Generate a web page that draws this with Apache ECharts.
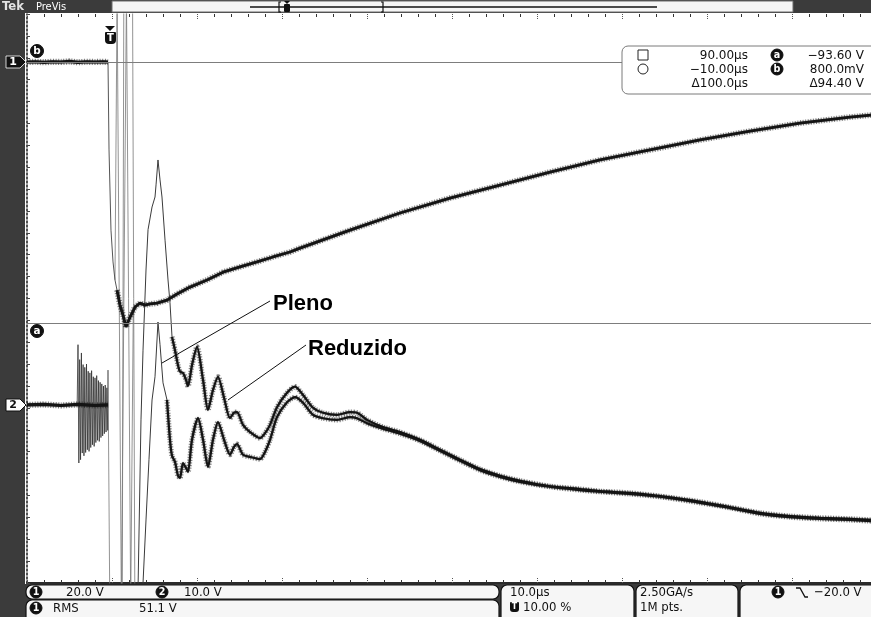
<!DOCTYPE html>
<html>
<head>
<meta charset="utf-8">
<script src="https://cdn.jsdelivr.net/npm/echarts@6/dist/echarts.min.js"></script>
<style>
  html, body { margin: 0; padding: 0; background: #ffffff; }
  #scope { width: 871px; height: 617px; }
</style>
</head>
<body>
<div id="scope"></div>
<script>
// Time in microseconds (trigger at 0), amplitudes in volts.
// Channel 1: 20 V/div, channel 2: 10 V/div.

const ch1Pre = [[-10, 0.8], [-9, 0.9], [-8, 0.7], [-7, 0.9], [-6, 0.8], [-5, 1.0], [-4, 0.7],
  [-3, 0.9], [-2, 0.8], [-1, 0.9], [-0.47, 0.8]];
const ch1Drop = [[-0.47, 0.8], [-0.35, -31.0], [-0.12, -60.0], [0.12, -71.5], [0.35, -78.0], [0.59, -81.7]];
const ch1Ring = [[0.35, -78.0], [0.6, 25], [1.1, -195], [1.7, 25], [2.2, -195], [2.5, -90]];
const ch1Main = [[0.59, -81.7], [0.94, -87.1], [1.29, -90.7], [1.65, -95.0], [1.88, -93.2], [2.24, -90.7],
  [2.71, -87.8], [3.29, -86.4], [3.88, -87.1], [4.47, -86.7], [5.29, -86.4], [6.47, -85.3], [7.65, -83.1],
  [9.18, -80.6], [11.18, -78.0], [13.06, -75.2], [15.06, -73.3], [17.06, -71.5], [18.94, -69.7],
  [20.94, -67.9], [22.12, -66.5], [28.0, -60.0], [33.88, -53.8], [39.76, -48.4], [45.65, -43.7],
  [51.53, -39.0], [57.41, -34.6], [63.29, -31.0], [69.18, -27.4], [75.06, -24.2], [80.94, -21.3],
  [86.82, -19.1], [89.29, -18.4]];

const ch2Pre = [[-10, 0], [-8, 0.1], [-6, -0.1], [-4, 0.1], [-2, -0.1], [-0.47, 0]];
const ch2Burst = [[-4.1, 0], [-4.0, 10.9], [-3.9, -10.5], [-3.8, 8.2], [-3.7, -9.9], [-3.6, 9.4],
  [-3.5, -8.7], [-3.4, 7.3], [-3.3, -9.2], [-3.2, 6.8], [-3.1, -8.6], [-3.0, 7.4], [-2.9, -8.1],
  [-2.8, 6.1], [-2.7, -8.4], [-2.6, 5.8], [-2.5, -7.7], [-2.4, 6.2], [-2.3, -7.2], [-2.2, 5.1],
  [-2.1, -7.5], [-2.0, 4.9], [-1.9, -6.8], [-1.8, 5.3], [-1.7, -6.4], [-1.6, 4.4], [-1.5, -6.6],
  [-1.4, 4.1], [-1.3, -5.9], [-1.2, 3.8], [-1.1, -5.6], [-1.0, 3.4], [-0.9, -5.2], [-0.8, 3.6],
  [-0.7, -4.9], [-0.6, 3.1], [-0.5, -4.6], [-0.47, 6.3]];
const ch2Ring = [[-0.47, 6.3], [-0.24, -40], [1.2, -40], [1.4, 80], [2.4, 80], [2.7, -40], [3.0, -40]];

// Two ch2 captures: reduced ("Reduzido") and full ("Pleno") impulse
const reduzido = [[3.06, -33.5], [3.41, -2.7], [3.65, 9.9], [4.0, 24.4], [4.24, 31.7], [4.71, 35.8],
  [5.06, 37.6], [5.18, 39.8], [5.41, 44.3], [5.65, 40.7], [5.88, 37.6], [6.24, 29.8], [6.59, 22.6],
  [6.82, 18.5], [7.06, 12.3], [7.41, 9.9], [7.76, 7.2], [8.0, 6.0], [8.35, 5.8], [8.71, 4.5], [8.94, 3.4],
  [9.41, 7.2], [10.0, 10.5], [10.71, 4.5], [11.29, -0.9], [11.88, 2.7], [12.47, 5.1], [13.18, 1.3],
  [13.88, -2.4], [14.35, -1.4], [14.71, -1.3], [15.41, -3.6], [16.24, -4.9], [17.41, -6.0], [18.0, -5.1],
  [18.59, -3.6], [19.41, -0.4], [20.59, 2.2], [21.53, 3.3], [22.47, 1.8], [23.65, -0.5], [24.82, -1.4],
  [26.47, -1.8], [28.0, -1.3], [28.82, -1.4], [30.0, -2.7], [31.88, -4.0], [33.88, -4.9], [36.24, -6.3],
  [38.59, -8.1], [40.94, -9.9], [43.29, -11.6], [45.65, -12.8], [48.0, -13.7], [51.53, -14.7],
  [55.06, -15.2], [57.41, -15.6], [60.94, -15.9], [64.47, -16.5], [69.18, -17.5], [72.71, -18.5],
  [76.24, -19.5], [79.76, -20.1], [83.29, -20.4], [86.82, -20.6], [89.29, -20.8]];
const pleno = [[3.41, -35.3], [3.65, -32.2], [4.0, -20.8], [4.35, -9.9], [4.71, 0.9], [5.06, 5.1],
  [5.41, 15.0], [5.65, 10.9], [6.0, 4.0], [6.47, 0.9], [6.82, -6.3], [7.06, -9.2], [7.41, -10.3],
  [7.76, -12.8], [8.0, -13.2], [8.35, -10.5], [8.71, -11.4], [8.94, -12.1], [9.41, -6.3], [10.12, -2.4],
  [10.71, -6.3], [11.29, -11.2], [11.88, -6.3], [12.47, -3.1], [13.18, -6.3], [13.88, -9.0],
  [14.35, -7.6], [14.71, -7.1], [15.41, -9.0], [16.24, -9.4], [17.41, -9.8], [18.0, -8.5], [18.59, -6.3],
  [19.41, -2.2], [20.59, 0.5], [21.53, 1.4], [22.47, 0.4], [23.65, -1.8], [24.82, -2.4], [26.47, -2.7],
  [28.0, -2.2], [28.82, -2.4], [30.0, -3.3], [31.88, -4.3], [33.88, -5.2], [36.24, -6.5], [38.59, -8.3],
  [40.94, -10.1], [43.29, -11.8], [45.65, -13.0], [48.0, -13.9], [51.53, -14.8], [55.06, -15.4],
  [57.41, -15.7], [60.94, -16.1], [64.47, -16.6], [69.18, -17.7], [72.71, -18.6], [76.24, -19.7],
  [79.76, -20.3], [83.29, -20.6], [86.82, -20.8], [89.29, -21.0]];

// Cursor readouts (a / b) and the settings bar
const cursorA = -93.6;
const cursorB = 0.8;
const readoutRows = [
  ['□', '90.00µs', 'a', '−93.60 V'],
  ['○', '−10.00µs', 'b', '800.0mV'],
  ['', 'Δ100.0µs', '', 'Δ94.40 V']
];

const SANS = "'DejaVu Sans Condensed','Liberation Sans Narrow','DejaVu Sans',sans-serif";
const DARK = '#3b3b3b';

const thin = (data, yAxisIndex, color, width) => ({
  type: 'line', data, yAxisIndex, symbol: 'none', silent: true, clip: true,
  lineStyle: { color: color || '#6a6a6a', width: width || 0.8 }, z: 2
});
// a solid trace core plus a grainy, dotted halo for the persistence look
const thick = (data, yAxisIndex, width, smooth, extra) => [
  { type: 'line', data, yAxisIndex, symbol: 'none', silent: true, clip: true, smooth: smooth || false,
    lineStyle: { color: 'rgba(30,30,30,0.55)', width: width + 3, type: [1, 1.6] }, z: 3 },
  Object.assign({
    type: 'line', data, yAxisIndex, symbol: 'none', silent: true, clip: true, smooth: smooth || false,
    lineStyle: { color: '#141414', width, shadowBlur: 1.5, shadowColor: 'rgba(0,0,0,0.5)' }, z: 4
  }, extra || {})
];

const plenoThinEnd = 6.47, reduzidoThinEnd = 7.06;

const txt = (text, x, y, opt) => ({
  type: 'text', z: 100, silent: true,
  style: Object.assign({
    text, x, y, fill: '#111', fontSize: 12, fontFamily: SANS,
    align: 'left', verticalAlign: 'middle', textAlign: 'left', textVerticalAlign: 'middle'
  }, opt || {})
});
const badge = (label, cx, cy, r, inverted) => [
  { type: 'circle', z: 100, silent: true, shape: { cx, cy, r },
    style: { fill: inverted ? '#fff' : '#111', stroke: '#111', lineWidth: 1 } },
  txt(label, cx, cy + 0.5, { fill: inverted ? '#111' : '#fff', fontSize: r * 1.6, fontWeight: 'bold',
    fontFamily: "'DejaVu Sans',sans-serif", align: 'center', textAlign: 'center' })
];
const box = (x, y, w, h) => ({
  type: 'rect', z: 99, silent: true, shape: { x, y, width: w, height: h, r: 6 },
  style: { fill: '#f6f6f6', stroke: '#111', lineWidth: 1.2 }
});

const graphics = [
  // top status bar
  { type: 'rect', z: 98, silent: true, shape: { x: 0, y: 0, width: 871, height: 13 }, style: { fill: DARK } },
  { type: 'rect', z: 99, silent: true, shape: { x: 112, y: 1, width: 681, height: 11 }, style: { fill: '#f5f5f5', stroke: '#6a6a6a', lineWidth: 1 } },
  txt('Tek', 2, 7, { fill: '#e2e2e2', fontSize: 13, fontWeight: 'bold', fontFamily: "'DejaVu Sans Condensed','DejaVu Sans',sans-serif" }),
  txt('PreVis', 36, 7, { fill: '#ffffff', fontSize: 11 }),
  { type: 'line', z: 100, silent: true, shape: { x1: 250, y1: 7, x2: 657, y2: 7 }, style: { stroke: '#111', lineWidth: 1.5 } },
  { type: 'polyline', z: 100, silent: true, shape: { points: [[281, 2], [279, 2], [279, 12], [281, 12]] }, style: { stroke: '#111', lineWidth: 1.2, fill: null } },
  { type: 'polyline', z: 100, silent: true, shape: { points: [[381, 2], [383, 2], [383, 12], [381, 12]] }, style: { stroke: '#111', lineWidth: 1.2, fill: null } },
  { type: 'rect', z: 100, silent: true, shape: { x: 284, y: 4, width: 6, height: 8, r: 1 }, style: { fill: '#111' } },
  { type: 'polygon', z: 100, silent: true, shape: { points: [[284, 1], [290, 1], [287, 4]] }, style: { fill: '#111' } },

  // left margin strip with channel ground markers
  { type: 'rect', z: 98, silent: true, shape: { x: 0, y: 13, width: 25, height: 575 }, style: { fill: DARK } },
  { type: 'polygon', z: 100, silent: true, shape: { points: [[6, 56], [20, 56], [26, 62], [20, 68], [6, 68]] }, style: { fill: '#111', stroke: '#fff', lineWidth: 0.8 } },
  txt('1', 13, 62.5, { fill: '#fff', fontWeight: 'bold', fontSize: 11, align: 'center', textAlign: 'center', fontFamily: "'DejaVu Sans',sans-serif" }),
  { type: 'polygon', z: 100, silent: true, shape: { points: [[6, 399], [20, 399], [26, 405], [20, 411], [6, 411]] }, style: { fill: '#fff', stroke: '#111', lineWidth: 1 } },
  txt('2', 13, 405.5, { fill: '#111', fontWeight: 'bold', fontSize: 11, align: 'center', textAlign: 'center', fontFamily: "'DejaVu Sans',sans-serif" }),
  ...badge('b', 37, 51, 6.5),
  ...badge('a', 37, 331, 6.5),

  // trigger position marker
  { type: 'polygon', z: 100, silent: true, shape: { points: [[105, 26], [115, 26], [110, 31]] }, style: { fill: '#111' } },
  { type: 'rect', z: 100, silent: true, shape: { x: 105, y: 32, width: 11, height: 12, r: [1, 1, 4, 4] }, style: { fill: '#111' } },
  txt('T', 110.5, 38, { fill: '#fff', fontWeight: 'bold', fontSize: 10, align: 'center', textAlign: 'center', fontFamily: "'DejaVu Sans',sans-serif" }),

  // cursor readout
  { type: 'rect', z: 99, silent: true, shape: { x: 622, y: 46, width: 262, height: 48, r: 6 }, style: { fill: '#ffffff', stroke: '#7a7a7a', lineWidth: 1 } },

  // bottom settings panel
  { type: 'rect', z: 98, silent: true, shape: { x: 0, y: 584, width: 871, height: 33 }, style: { fill: DARK } },
  box(26, 585, 473, 14),
  box(26, 600, 473, 26),
  box(501, 585, 133, 40),
  box(636, 585, 102, 40),
  box(740, 585, 145, 40),
  ...badge('1', 36, 592, 6),
  txt('20.0 V', 66, 592.5, { fontSize: 13 }),
  ...badge('2', 162, 592, 6),
  txt('10.0 V', 184, 592.5, { fontSize: 13 }),
  ...badge('1', 36, 608, 6),
  txt('RMS', 53, 608.5, { fontSize: 13 }),
  txt('51.1 V', 139, 608.5, { fontSize: 13 }),
  txt('10.0µs', 510, 592.5, { fontSize: 13 }),
  { type: 'rect', z: 100, silent: true, shape: { x: 510, y: 602, width: 9, height: 10, r: [1, 1, 3, 3] }, style: { fill: '#111' } },
  txt('T', 514.5, 607, { fill: '#fff', fontWeight: 'bold', fontSize: 8, align: 'center', textAlign: 'center', fontFamily: "'DejaVu Sans',sans-serif" }),
  txt('10.00 %', 523, 607.5, { fontSize: 13 }),
  txt('2.50GA/s', 640, 592.5, { fontSize: 13 }),
  txt('1M pts.', 640, 607.5, { fontSize: 13 }),
  ...badge('1', 778, 592, 6),
  { type: 'polyline', z: 100, silent: true, shape: { points: [[796, 588], [800, 588], [805, 597], [808, 597]] }, style: { stroke: '#111', lineWidth: 1.3, fill: null } },
  txt('−20.0 V', 814, 592.5, { fontSize: 13 }),

  // trace annotations
  { type: 'line', z: 100, silent: true, shape: { x1: 270, y1: 301, x2: 162, y2: 363 }, style: { stroke: '#111', lineWidth: 1 } },
  { type: 'line', z: 100, silent: true, shape: { x1: 306, y1: 345, x2: 228, y2: 400 }, style: { stroke: '#111', lineWidth: 1 } },
  txt('Pleno', 273, 304, { fontSize: 22, fontWeight: 'bold', fontFamily: "'Liberation Sans',Arial,sans-serif", fill: '#000' }),
  txt('Reduzido', 308, 349, { fontSize: 22, fontWeight: 'bold', fontFamily: "'Liberation Sans',Arial,sans-serif", fill: '#000' })
];

// readout rows: marker, time, cursor badge, value
const rowY = [55, 69, 83];
readoutRows.forEach((row, i) => {
  const y = rowY[i];
  if (row[0] === '□') graphics.push({ type: 'rect', z: 100, silent: true, shape: { x: 638, y: y - 5, width: 10, height: 10 }, style: { fill: 'none', stroke: '#222', lineWidth: 1 } });
  if (row[0] === '○') graphics.push({ type: 'circle', z: 100, silent: true, shape: { cx: 643, cy: y, r: 5 }, style: { fill: 'none', stroke: '#222', lineWidth: 1 } });
  graphics.push(txt(row[1], 748, y + 0.5, { align: 'right', textAlign: 'right', fontSize: 12, fontFamily: "'DejaVu Sans',sans-serif" }));
  if (row[2]) graphics.push(...badge(row[2], 777, y, 6));
  graphics.push(txt(row[3], 864, y + 0.5, { align: 'right', textAlign: 'right', fontSize: 12, fontFamily: "'DejaVu Sans',sans-serif" }));
});

const xBase = {
  type: 'value', min: -10, max: 89.29, interval: 10,
  axisLabel: { show: false }, splitLine: { show: false },
  axisTick: { show: true, inside: true, length: 6, lineStyle: { color: '#555', width: 1, type: 'dotted' } },
  minorTick: { show: true, splitNumber: 5, length: 3, lineStyle: { color: '#333', width: 1 } }
};

const option = {
  animation: false,
  backgroundColor: '#ffffff',
  grid: { left: 27, right: 0, top: 14, bottom: 34, containLabel: false },
  xAxis: [
    Object.assign({}, xBase, { position: 'bottom', axisLine: { show: true, onZero: false, lineStyle: { color: '#2b2b2b', width: 2 } } }),
    Object.assign({}, xBase, { position: 'top', axisLine: { show: false, onZero: false } })
  ],
  yAxis: [
    { type: 'value', min: -187.6, max: 18.16, show: false, splitLine: { show: false } },
    { type: 'value', min: -32.2, max: 70.7, show: false, splitLine: { show: false } },
    { type: 'value', min: 0, max: 26, interval: 1, position: 'left',
      axisLine: { show: true, onZero: false, lineStyle: { color: '#1a1a1a', width: 1.5, type: [2, 2] } },
      axisTick: { show: true, inside: true, length: 3, lineStyle: { color: '#444' } },
      axisLabel: { show: false }, splitLine: { show: false } }
  ],
  graphic: graphics,
  series: [
    thin(ch2Burst, 1, 'rgba(45,45,45,0.85)', 0.9),
    ...thick(ch2Pre, 1, 3.2),
    thin(ch2Ring, 1, '#777', 0.8),
    thin(ch1Ring, 0, '#777', 0.8),
    ...thick(ch1Pre, 0, 3.2),
    thin(ch1Drop, 0, '#555', 1),
    ...thick(ch1Main, 0, 2.8, false, {
      markLine: {
        silent: true, symbol: 'none', label: { show: false },
        lineStyle: { color: '#7d7d7d', width: 1, type: 'solid' },
        data: [{ yAxis: cursorB }, { yAxis: cursorA }]
      }
    }),
    thin(reduzido.filter(p => p[0] <= reduzidoThinEnd), 1, '#3a3a3a', 1),
    ...thick(reduzido.filter(p => p[0] >= reduzidoThinEnd), 1, 2.2, 0.25),
    thin(pleno.filter(p => p[0] <= plenoThinEnd), 1, '#3a3a3a', 1),
    ...thick(pleno.filter(p => p[0] >= plenoThinEnd), 1, 2.2, 0.25)
  ]
};

const chart = echarts.init(document.getElementById('scope'), null, { renderer: 'canvas' });
chart.setOption(option);
</script>
</body>
</html>
